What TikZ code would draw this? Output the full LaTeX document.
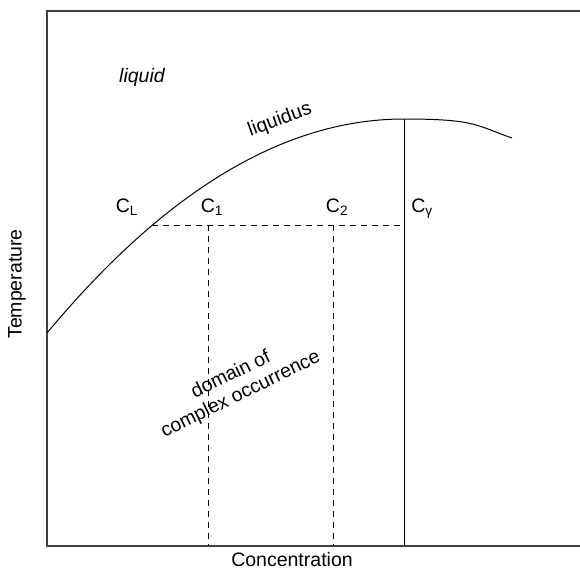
\documentclass[tikz,border=0pt]{standalone}
\usepackage{fontspec}
\setmainfont{Liberation Sans}
\begin{document}
\begin{tikzpicture}[x=1pt,y=-1pt,
  axisline/.style={line width=1.2pt, draw=black!75},
  curveline/.style={line width=1pt},
  dashline/.style={line width=0.8pt, dash pattern=on 6pt off 5pt},
  lbl/.style={font=\fontsize{19.5}{22}\selectfont, inner sep=0pt}]
\useasboundingbox (0,0) rectangle (580,571);
% axes frame
\coordinate (tr) at (580,11);
\coordinate (tl) at (47,11);
\coordinate (bl) at (47,546);
\coordinate (br) at (580,546);
\draw[axisline] (tr) -- (tl) -- (bl) -- (br);
% liquidus curve
\coordinate (start) at (47,333);
\coordinate (peak) at (404,119);
\coordinate (cend) at (512,138);
\draw[curveline] (start) .. controls (166,190) and (285,119) .. (peak)
  .. controls (476,119) and (476,125.5) .. (cend);
% solid vertical
\coordinate (gbot) at (404,546);
\draw[line width=1pt] (peak) -- (gbot);
% dashed lines
\coordinate (cl) at (152,225);
\coordinate (cg) at (404,225);
\coordinate (c1t) at (208,225);
\coordinate (c1b) at (208,546);
\coordinate (c2t) at (333,225);
\coordinate (c2b) at (333,546);
\draw[dashline] (cl) -- (cg);
\draw[dashline] (c1t) -- (c1b);
\draw[dashline] (c2t) -- (c2b);
% labels
\node[lbl] (liq) at (142,77) {\itshape liquid};
\node[lbl, rotate=20] (liqs) at (280,120) {liquidus};
\node[lbl] (CL) at (127,207) {C\textsubscript{L}};
\node[lbl] (C1) at (212,207) {C\textsubscript{1}};
\node[lbl] (C2) at (337,207) {C\textsubscript{2}};
\node[lbl] (Cg) at (422,209) {C\textsubscript{γ}};
\node[lbl, rotate=26, align=center] (dom) at (236,385) {domain of\\complex occurrence};
\node[lbl] (xl) at (292,560) {Concentration};
\node[lbl, rotate=90] (yl) at (17,284) {Temperature};
\end{tikzpicture}
\end{document}
